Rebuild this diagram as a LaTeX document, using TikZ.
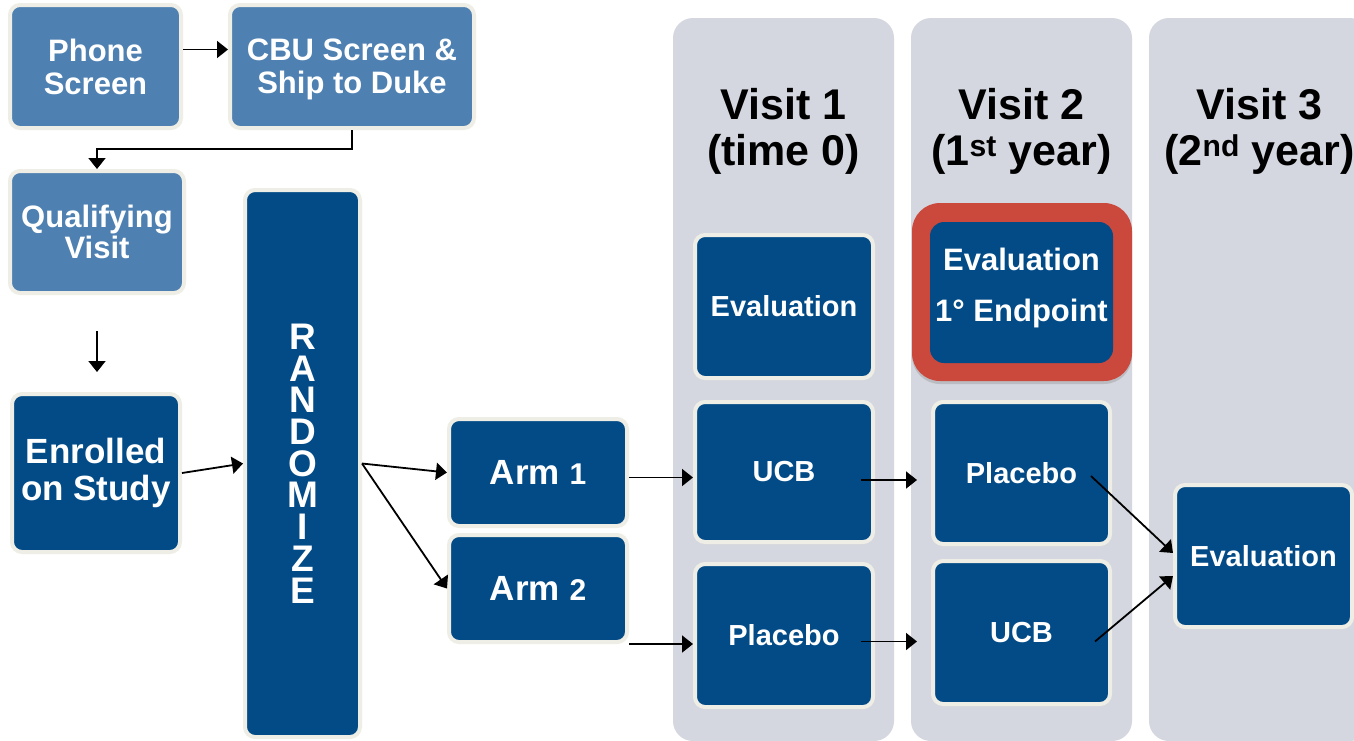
\documentclass[tikz,border=0pt]{standalone}
\usepackage{fontspec}
\setmainfont{Liberation Sans}
\usetikzlibrary{arrows.meta,shadows,calc}

\definecolor{lblue}{HTML}{4E80B1}
\definecolor{dblue}{HTML}{034B87}
\definecolor{edge}{HTML}{EFEEE6}
\definecolor{panelgray}{HTML}{D4D7DF}
\definecolor{framered}{HTML}{CB483C}

\newcommand\fsz[2]{\fontsize{#1}{#2}\selectfont\bfseries}

\tikzset{
  box/.style={rectangle, rounded corners=10pt, draw=edge, line width=4pt,
    text=white, align=center, inner sep=0pt},
  lbox/.style={box, fill=lblue},
  dbox/.style={box, fill=dblue},
  panel/.style={fill=panelgray, rounded corners=20pt},
  arr/.style={draw=black, line width=1.8pt, -{Triangle[length=11pt,width=17pt]}},
  head/.style={font=\fsz{43}{46}, text=black, align=center, inner sep=0pt},
}

\begin{document}
\begin{tikzpicture}[x=1pt,y=-1pt]
  \fill[white] (0,0) rectangle (1354,740);
  \useasboundingbox (0,0) rectangle (1354,740);

  % visit columns
  \fill[panel] (673,18) rectangle (894,741);
  \fill[panel] (911,18) rectangle (1132,741);
  \fill[panel] (1149,18) rectangle (1370,741);

  \node[head] (h1) at (783.5,131) {Visit 1\\(time 0)};
  \node[head] (h2) at (1021.5,131) {Visit 2\\(1\textsuperscript{st} year)};
  \node[head] (h3) at (1259.5,131) {Visit 3\\(2\textsuperscript{nd} year)};

  % screening steps
  \node[lbox, minimum width=171pt, minimum height=123pt, font=\fsz{31}{33}]
    (phone) at (95.5,66.5) {Phone\\Screen};
  \node[lbox, minimum width=244pt, minimum height=123pt, font=\fsz{31}{33}, text depth=0pt]
    (cbu) at (352,66.5) {CBU Screen \&\\Ship to Duke};
  \node[lbox, minimum width=174pt, minimum height=122pt, font=\fsz{31}{31}]
    (qual) at (97,232) {Qualifying\\Visit};

  % enrolment and randomisation
  \node[dbox, minimum width=168pt, minimum height=158pt, font=\fsz{35}{37}]
    (enr) at (96,473) {Enrolled\\on Study};
  \node[dbox, minimum width=115pt, minimum height=547pt, font=\fsz{37}{31.7}]
    (rand) at (302.5,463.5) {R\\A\\N\\D\\O\\M\\I\\Z\\E};
  \node[dbox, minimum width=178pt, minimum height=107pt, font=\fsz{35}{37}]
    (arm1) at (538,472.5) {Arm {\fontsize{30}{30}\selectfont 1}};
  \node[dbox, minimum width=178pt, minimum height=107pt, font=\fsz{35}{37}]
    (arm2) at (538,588.5) {Arm {\fontsize{30}{30}\selectfont 2}};

  % visit 1
  \node[dbox, minimum width=178pt, minimum height=143pt, font=\fsz{29}{31}]
    (eval1) at (784,306.5) {Evaluation};
  \node[dbox, minimum width=178pt, minimum height=140pt, font=\fsz{29}{31}]
    (ucb1) at (784,472) {UCB};
  \node[dbox, minimum width=178pt, minimum height=143pt, font=\fsz{29}{31}]
    (plac1) at (784,635.5) {Placebo};

  % visit 2
  \node[fill=framered, rounded corners=28pt, minimum width=220pt, minimum height=178pt,
        inner sep=0pt, drop shadow={shadow xshift=0pt, shadow yshift=-3pt, opacity=0.3}]
    (frame) at (1022,292) {};
  \node[fill=dblue, rounded corners=14pt, minimum width=183pt, minimum height=141pt,
        inner sep=0pt, text=white, align=center, font=\fsz{31}{51}, text depth=15pt]
    (endpt) at (1021.5,292.5) {Evaluation\\1° Endpoint};
  \node[dbox, minimum width=177pt, minimum height=142pt, font=\fsz{29}{31}]
    (plac2) at (1021.5,473) {Placebo};
  \node[dbox, minimum width=177pt, minimum height=143pt, font=\fsz{29}{31}]
    (ucb2) at (1021.5,632.5) {UCB};

  % visit 3
  \node[dbox, minimum width=177pt, minimum height=142pt, font=\fsz{29}{31}]
    (eval3) at (1263.5,556) {Evaluation};

  % connectors
  \draw[arr] ([yshift=17pt]phone.east) -- ([yshift=17pt]phone.east -| cbu.west);
  \draw[arr] (cbu.south) -- ++(0,19) -| (qual.north);
  \draw[arr, shorten <=36pt, shorten >=20pt] (qual.south) -- (qual.south |- enr.north);
  \draw[arr] (enr.east) -- (rand.west);
  \draw[arr] (rand.east) -- (arm1.west);
  \draw[arr] (rand.east) -- (arm2.west);
  \draw[arr] ([yshift=-5pt]arm1.east) -- ([yshift=-5pt]arm1.east -| ucb1.west);
  \draw[arr] (arm2.south east) -- (arm2.south east -| plac1.west);
  \draw[arr] ([xshift=-14pt,yshift=-8pt]ucb1.east) -- ([xshift=-14pt,yshift=-8pt]ucb1.east -| plac2.west);
  \draw[arr] ([xshift=-14pt,yshift=-6pt]plac1.east) -- ([xshift=-14pt,yshift=-6pt]plac1.east -| ucb2.west);
  \draw[arr] ([xshift=-21pt,yshift=-3pt]plac2.east) -- ([yshift=3pt]eval3.west);
  \draw[arr] ([xshift=-17pt,yshift=-9pt]ucb2.east) -- ([yshift=-20pt]eval3.west);
\end{tikzpicture}
\end{document}
